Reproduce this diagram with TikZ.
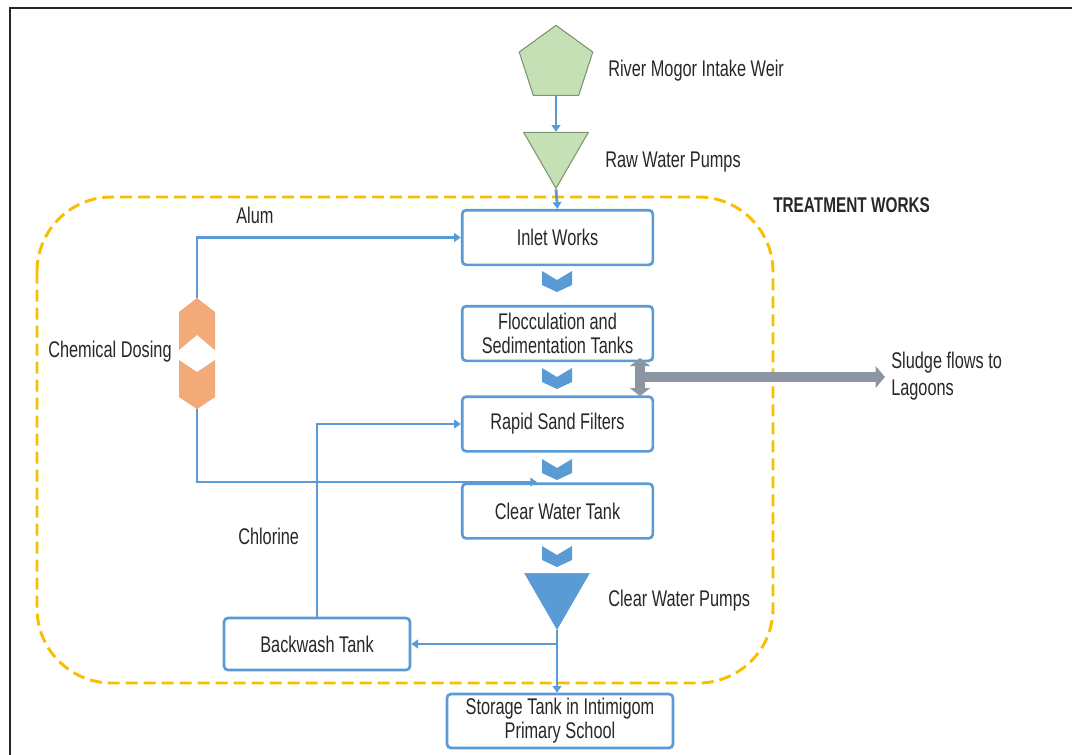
\documentclass[tikz,border=0pt]{standalone}
\usepackage{fontspec}
\setmainfont[FakeStretch=0.72]{Liberation Sans}
\usetikzlibrary{shapes.geometric,arrows.meta}

\definecolor{flowblue}{RGB}{91,155,213}
\definecolor{pumpgreen}{RGB}{197,224,180}
\definecolor{greenedge}{RGB}{125,150,115}
\definecolor{worksgold}{RGB}{250,190,0}
\definecolor{dosing}{RGB}{242,170,120}
\definecolor{sludgegrey}{RGB}{140,150,162}
\definecolor{ink}{RGB}{40,40,40}

\tikzset{
  stage/.style={draw=flowblue, line width=2pt, rounded corners=3pt, fill=white, minimum width=143pt, minimum height=41pt, align=center, inner sep=1pt, text=ink, font=\fontsize{17}{18}\selectfont},
  note/.style={anchor=west, inner sep=0.75pt, text=ink, font=\fontsize{17}{20}\selectfont},
  pipe/.style={draw=flowblue, line width=2.1pt, -{Triangle[length=5pt,width=6.5pt]}},
  sludgeflow/.style={draw=sludgegrey, line width=7pt},
}

\begin{document}
\begin{tikzpicture}[x=0.75pt,y=0.75pt,yscale=-1,xscale=1]
        \useasboundingbox (0,0) rectangle (1072,754);
        \fill[white] (0,0) rectangle (1072,754);

        %Frame
        \draw[line width=1.6pt, black!85] (10,780) -- (10,8) -- (1090,8);

        %Shape: Rounded Rectangle, treatment works
        \draw[worksgold, line width=2.2pt, dash pattern=on 9pt off 4.5pt, rounded corners=56pt] (37,197) rectangle (773,683);

        %Shape: intake and pumps
        \node (weir) [regular polygon, regular polygon sides=5, minimum size=58pt, inner sep=0pt, fill=pumpgreen, draw=greenedge, line width=0.8pt] at (556,64) {};
        \node (rawpump) [regular polygon, regular polygon sides=3, shape border rotate=180, minimum size=56pt, inner sep=0pt, fill=pumpgreen, draw=greenedge, line width=0.8pt] at (556,151) {};
        \node (clearpump) [regular polygon, regular polygon sides=3, shape border rotate=180, minimum size=56pt, inner sep=0pt, fill=flowblue, draw=flowblue] at (557,592) {};

        %Shape: treatment stages
        \node (inlet) [stage] at (557.5,237.5) {Inlet Works};
        \node (floc) [stage] at (557.5,333.5) {Flocculation and\\Sedimentation Tanks};
        \node (rapid) [stage] at (557.5,424) {Rapid Sand Filters};
        \node (clear) [stage] at (557.5,511) {Clear Water Tank};
        \node (backwash) [stage, minimum width=139.5pt, minimum height=39pt] at (317,644) {Backwash Tank};
        \node (storage) [stage, minimum width=169.5pt, minimum height=40.5pt] at (560,721) {Storage Tank in Intimigom\\Primary School};

        %Shape: chevrons between stages
        \foreach \y in {281,378,469,556}
          \fill[flowblue] (542,\y-10) -- (557,\y-1) -- (572,\y-10) -- (572,\y+4) -- (557,\y+11) -- (542,\y+4) -- cycle;

        %Shape: chemical dosing
        \fill[dosing] (179,312) -- (197,298) -- (215,312) -- (215,350) -- (197,335) -- (179,350) -- cycle;
        \fill[dosing] (179,360) -- (197,372) -- (215,360) -- (215,397) -- (197,409) -- (179,397) -- cycle;
        \coordinate (dosetop) at (197,298);
        \coordinate (dosebot) at (197,409);
        \coordinate (clearin) at (537,482);
        \coordinate (tee) at (clearpump.south |- backwash.east);
        \coordinate (sludgetop) at (640,358);
        \coordinate (sludgebot) at (640,396);
        \coordinate (sludgemid) at (640,377);
        \coordinate (lagoons) at (885,377);

        %Straight Lines
        \draw[pipe] (weir.south) -- (rawpump.north);
        \draw[pipe] (rawpump.south) -- (inlet.north);
        \draw[pipe] (dosetop) |- (inlet.west);
        \draw[pipe] (dosebot) |- (clearin);
        \draw[pipe] (backwash.north) |- (rapid.west);
        \draw[pipe] (clearpump.south) -- (clearpump.south |- storage.north);
        \draw[pipe] (tee) -- (backwash.east);

        %Sludge arrows
        \draw[sludgeflow, {Triangle[width=15pt,length=6pt]}-{Triangle[width=15pt,length=6pt]}] (sludgetop) -- (sludgebot);
        \draw[sludgeflow, -{Triangle[width=16pt,length=7pt]}] (sludgemid) -- (lagoons);

        % Text Node
        \node (weirtext) [note] at (607,71) {River Mogor Intake Weir};
        % Text Node
        \node (rawtext) [note] at (604,162) {Raw Water Pumps};
        % Text Node
        \node (workstext) [note, font=\bfseries\fontsize{16}{18}\selectfont] at (772,205) {TREATMENT WORKS};
        % Text Node
        \node (alumtext) [note] at (235,215) {Alum};
        % Text Node
        \node (dosingtext) [note] at (47,352) {Chemical Dosing};
        % Text Node
        \node (chlorinetext) [note] at (237,536) {Chlorine};
        % Text Node
        \node (cleartext) [note] at (607,601) {Clear Water Pumps};
        % Text Node
        \node (sludgetext) [note, align=left] at (890,376) {Sludge flows to\\Lagoons};

\end{tikzpicture}
\end{document}
